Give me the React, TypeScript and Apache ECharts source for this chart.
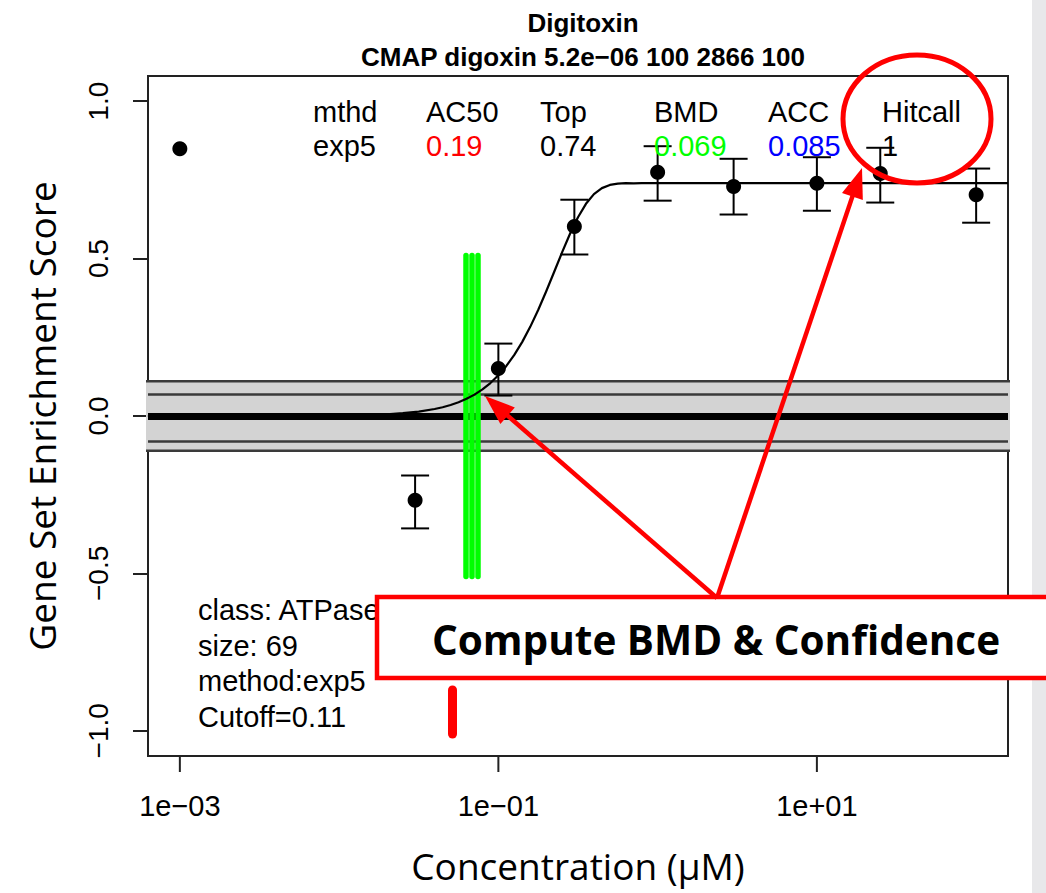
import { useEffect, useRef } from "react";
import * as echarts from "echarts";

// ---- titles ----
const drugName = "Digitoxin";
const subtitle = "CMAP digoxin 5.2e\u221206 100 2866 100";

// ---- observed responses (concentration in µM) ----
const conc = [0.001, 0.03, 0.1, 0.3, 1, 3, 10, 25, 100];
const resp = [0.849, -0.268, 0.151, 0.602, 0.774, 0.729, 0.739, 0.77, 0.703];
const errLow = [null, -0.357, 0.065, 0.513, 0.684, 0.64, 0.652, 0.678, 0.614];
const errHigh = [null, -0.189, 0.23, 0.687, 0.857, 0.817, 0.822, 0.852, 0.786];

// ---- fitted exp5 curve (AC50 0.19, top 0.74) ----
const curveConc = [
  0.00063, 0.01, 0.01585, 0.01995, 0.02512, 0.03162, 0.03981, 0.04467, 0.05012, 0.05623, 0.0631,
  0.07079, 0.07943, 0.08913, 0.1, 0.1122, 0.1259, 0.1413, 0.1585, 0.1778, 0.1995, 0.2239, 0.2512,
  0.2818, 0.3162, 0.3548, 0.3981, 0.4467, 0.5012, 0.5623, 0.631, 0.7079, 0.7943, 1, 158.5,
];
const curveResp = [
  0, 0.0014, 0.0036, 0.0056, 0.0089, 0.0141, 0.0222, 0.0278, 0.0348, 0.0436, 0.0545,
  0.0679, 0.0844, 0.1047, 0.1293, 0.1589, 0.1941, 0.2355, 0.2832, 0.3367, 0.3954, 0.4573, 0.5196,
  0.5789, 0.6315, 0.674, 0.7047, 0.7239, 0.734, 0.7383, 0.7396, 0.7391, 0.74, 0.74, 0.74,
];

// ---- reference levels ----
const cutoff = 0.11;
const innerLines = [0.072, -0.08];
const bmdConc = [0.0625, 0.068, 0.0743];
const bmdSpan = [-0.51, 0.51];
const redMarkConc = 0.051;
const redMarkSpan = [-0.87, -1.01];

// ---- summary table ----
const tableHeaders = ["mthd", "AC50", "Top", "BMD", "ACC", "Hitcall"];
const tableValues = ["exp5", "0.19", "0.74", "0.069", "0.085", "1"];
const tableColors = ["#000000", "#ff0000", "#000000", "#00ff00", "#0000ff", "#000000"];

const infoLines = ["class: ATPase", "size: 69", "method:exp5", "Cutoff=0.11"];
const calloutText = "Compute BMD & Confidence";

// ---- axes ----
const xTicks = [0.001, 0.1, 10];
const xTickLabels = ["1e\u221203", "1e\u221201", "1e+01"];
const yTicks = [-1, -0.5, 0, 0.5, 1];
const yTickLabels = ["\u22121.0", "\u22120.5", "0.0", "0.5", "1.0"];
const xName = "Concentration (\u00b5M)";
const yName = "Gene Set Enrichment Score";

const R_FONT = '"Liberation Sans", Arial, sans-serif';
const PPT_FONT = '"Open Sans", sans-serif';

function arrow(sx: number, sy: number, tx: number, ty: number, color: string) {
  const dx = tx - sx;
  const dy = ty - sy;
  const len = Math.hypot(dx, dy);
  const ux = dx / len;
  const uy = dy / len;
  const headLen = 30;
  const half = 11;
  const bx = tx - ux * headLen;
  const by = ty - uy * headLen;
  const nx = -uy;
  const ny = ux;
  return [
    {
      type: "line",
      z: 120,
      shape: { x1: sx, y1: sy, x2: bx + ux * 4, y2: by + uy * 4 },
      style: { stroke: color, lineWidth: 4.5 },
    },
    {
      type: "polygon",
      z: 121,
      shape: {
        points: [
          [tx, ty],
          [bx + nx * half, by + ny * half],
          [bx - nx * half, by - ny * half],
        ],
      },
      style: { fill: color },
    },
  ];
}

export default function App() {
  const ref = useRef<HTMLDivElement>(null);

  useEffect(() => {
    if (!ref.current) return;
    const chart = echarts.init(ref.current, undefined, { renderer: "svg" });

    const findLabel = (v: number, ticks: number[], labels: string[], log: boolean) => {
      for (let i = 0; i < ticks.length; i++) {
        const t = ticks[i];
        if (log) {
          if (Math.abs(Math.log10(t) - Math.log10(v)) < 0.01 || Math.abs(Math.log10(t) - v) < 0.01) return labels[i];
        } else if (Math.abs(t - v) < 1e-6) return labels[i];
      }
      return "";
    };

    const points = conc.map((c, i) => [c, resp[i]]);
    const bars = conc
      .map((c, i) => [c, errLow[i], errHigh[i]])
      .filter((d) => d[1] !== null);
    const curve = curveConc.map((c, i) => [c, curveResp[i]]);

    const black = "#000";
    const boxColor = "#222";

    const graphic: any[] = [];
    // right-hand strip
    graphic.push({
      type: "rect",
      z: 90,
      shape: { x: 1032, y: 0, width: 14, height: 893 },
      style: { fill: "#e8e8ea" },
    });
    // summary table
    const colX = [313, 426, 540, 654, 768, 882];
    tableHeaders.forEach((h, i) => {
      graphic.push({
        type: "text",
        z: 100,
        x: colX[i],
        y: 112,
        style: { text: h, fill: "#000", fontSize: 29, fontFamily: R_FONT, align: "left", verticalAlign: "middle" },
      });
      graphic.push({
        type: "text",
        z: 100,
        x: colX[i],
        y: 146,
        style: { text: tableValues[i], fill: tableColors[i], fontSize: 29, fontFamily: R_FONT, align: "left", verticalAlign: "middle" },
      });
    });
    // info block
    infoLines.forEach((t, i) => {
      graphic.push({
        type: "text",
        z: 100,
        x: 198,
        y: 610 + i * 35.5,
        style: { text: t, fill: "#000", fontSize: 29, fontFamily: R_FONT, align: "left", verticalAlign: "middle" },
      });
    });
    // callout box
    graphic.push({
      type: "rect",
      z: 110,
      shape: { x: 377, y: 597, width: 720, height: 81 },
      style: { fill: "#ffffff", stroke: "#ff0000", lineWidth: 4.5 },
    });
    graphic.push({
      type: "text",
      z: 111,
      x: 716,
      y: 639,
      style: {
        text: calloutText,
        fill: "#000",
        fontSize: 40.5,
        fontWeight: "bold",
        fontFamily: PPT_FONT,
        align: "center",
        verticalAlign: "middle",
      },
    });
    graphic.push(...arrow(717, 598, 485, 396, "#ff0000"));
    graphic.push(...arrow(717, 598, 862, 168, "#ff0000"));
    graphic.push({
      type: "ellipse",
      z: 120,
      shape: { cx: 917, cy: 119, rx: 74, ry: 64 },
      style: { fill: "none", stroke: "#ff0000", lineWidth: 5 },
    });

    const option: any = {
      animation: false,
      backgroundColor: "#ffffff",
      title: {
        text: drugName + "\n" + subtitle,
        left: 578,
        top: 1,
        textAlign: "center",
        textStyle: {
          fontFamily: R_FONT,
          fontWeight: "bold",
          fontSize: 26,
          lineHeight: 34,
          color: "#000",
        },
      },
      grid: {
        left: 148,
        top: 76,
        width: 860,
        height: 680,
        show: true,
        borderColor: boxColor,
        borderWidth: 2,
        backgroundColor: "transparent",
      },
      xAxis: {
        type: "log",
        logBase: 10,
        min: Math.pow(10, -3.2),
        max: Math.pow(10, 2.2),
        name: xName,
        nameLocation: "middle",
        nameGap: 91,
        nameTextStyle: { fontFamily: PPT_FONT, fontSize: 37, color: "#000" },
        axisLine: { show: false },
        splitLine: { show: false },
        axisTick: { show: false },
        axisLabel: {
          customValues: xTicks,
          margin: 35,
          fontFamily: R_FONT,
          fontSize: 29,
          color: "#000",
          formatter: (v: number) => findLabel(v, xTicks, xTickLabels, true),
        },
      },
      yAxis: {
        type: "value",
        min: -1.08,
        max: 1.08,
        name: yName,
        nameLocation: "middle",
        nameRotate: 90,
        nameGap: 88,
        nameTextStyle: { fontFamily: PPT_FONT, fontSize: 37, color: "#000" },
        axisLine: { show: false },
        splitLine: { show: false },
        axisTick: {
          show: true,
          customValues: yTicks,
          length: 15,
          lineStyle: { color: boxColor, width: 2 },
        },
        axisLabel: {
          customValues: yTicks,
          rotate: 90,
          margin: 36,
          fontFamily: R_FONT,
          fontSize: 28,
          color: "#000",
          formatter: (v: number) => findLabel(v, yTicks, yTickLabels, false),
        },
      },
      series: [
        {
          // tick marks under the log concentration axis
          type: "custom",
          name: "xticks",
          z: 2,
          silent: true,
          clip: false,
          data: xTicks.map((t) => [t, 0]),
          encode: { x: 0, y: 1 },
          renderItem: (params: any, api: any) => {
            const cs = params.coordSys;
            const x = api.coord([api.value(0), 0])[0];
            const y0 = cs.y + cs.height;
            return {
              type: "line",
              shape: { x1: x, y1: y0, x2: x, y2: y0 + 16 },
              style: { stroke: boxColor, lineWidth: 2 },
            };
          },
        },
        {
          // cutoff band
          type: "custom",
          name: "band",
          z: 3,
          silent: true,
          clip: false,
          data: [[xTicks[1], -cutoff, cutoff]],
          encode: { x: 0, y: [1, 2] },
          renderItem: (params: any, api: any) => {
            const cs = params.coordSys;
            const top = api.coord([api.value(0), api.value(2)])[1];
            const bot = api.coord([api.value(0), api.value(1)])[1];
            const x0 = cs.x - 2;
            const x1 = cs.x + cs.width + 2;
            const edge = { stroke: "#3a3a3a", lineWidth: 2.5 };
            return {
              type: "group",
              children: [
                { type: "rect", shape: { x: x0, y: top, width: x1 - x0, height: bot - top }, style: { fill: "#d3d3d3" } },
                { type: "line", shape: { x1: x0, y1: top, x2: x1, y2: top }, style: edge },
                { type: "line", shape: { x1: x0, y1: bot, x2: x1, y2: bot }, style: edge },
              ],
            };
          },
        },
        {
          // reference lines inside the band
          type: "line",
          name: "levels",
          z: 4,
          data: [],
          silent: true,
          markLine: {
            silent: true,
            symbol: "none",
            label: { show: false },
            animation: false,
            data: [
              ...innerLines.map((v) => ({ yAxis: v, lineStyle: { color: "#3a3a3a", width: 2.5, type: "solid" } })),
              { yAxis: 0, lineStyle: { color: "#000", width: 7, type: "solid" } },
            ],
          },
        },
        {
          // BMD with lower / upper bounds, and the red mark near the axis
          type: "line",
          name: "bmd",
          z: 5,
          data: [],
          silent: true,
          markLine: {
            silent: true,
            symbol: "none",
            label: { show: false },
            animation: false,
            data: [
              ...bmdConc.map((c) => [
                { coord: [c, bmdSpan[0]], lineStyle: { color: "#00ff00", width: 5.5, type: "solid", cap: "round" } },
                { coord: [c, bmdSpan[1]] },
              ]),
              [
                { coord: [redMarkConc, redMarkSpan[0]], lineStyle: { color: "#ff0000", width: 9, type: "solid", cap: "round" } },
                { coord: [redMarkConc, redMarkSpan[1]] },
              ],
            ],
          },
        },
        {
          type: "line",
          name: "fit",
          z: 6,
          data: curve,
          smooth: false,
          showSymbol: false,
          symbol: "none",
          lineStyle: { color: black, width: 2.2, join: "round" },
          silent: true,
        },
        {
          type: "custom",
          name: "errors",
          z: 7,
          silent: true,
          data: bars,
          encode: { x: 0, y: [1, 2] },
          renderItem: (_params: any, api: any) => {
            const x = api.value(0);
            const lo = api.coord([x, api.value(1)]);
            const hi = api.coord([x, api.value(2)]);
            const w = 14;
            const st = { stroke: black, lineWidth: 2 };
            return {
              type: "group",
              children: [
                { type: "line", shape: { x1: lo[0], y1: lo[1], x2: hi[0], y2: hi[1] }, style: st },
                { type: "line", shape: { x1: lo[0] - w, y1: lo[1], x2: lo[0] + w, y2: lo[1] }, style: st },
                { type: "line", shape: { x1: hi[0] - w, y1: hi[1], x2: hi[0] + w, y2: hi[1] }, style: st },
              ],
            };
          },
        },
        {
          type: "scatter",
          name: "response",
          z: 8,
          data: points,
          symbol: "circle",
          symbolSize: 15,
          itemStyle: { color: black, opacity: 1 },
          silent: true,
        },
      ],
      graphic,
    };

    chart.setOption(option);
    return () => chart.dispose();
  }, []);

  return (
    <div
      ref={ref}
      style={{ position: "fixed", left: 0, top: 0, width: 1046, height: 893, background: "#fff" }}
    />
  );
}
